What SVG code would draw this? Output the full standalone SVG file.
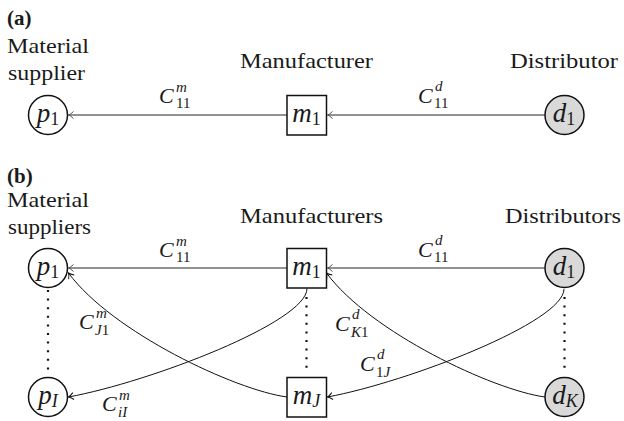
<svg xmlns="http://www.w3.org/2000/svg" width="624" height="421" viewBox="0 0 624 421" font-family="Liberation Serif">
<defs>
<style>
text{fill:#1a1a1a}
.t{font-size:21px}
.b{font-size:21px;font-weight:bold}
.mi{font-style:italic}
.c{font-size:22px;font-style:italic}
.s{font-size:15px}
.nl{font-size:27px;text-anchor:middle}
.ns{font-size:18px}
.node{stroke:#111;stroke-width:1.5;fill:#fff}
.dnode{stroke:#111;stroke-width:1.5;fill:#d9d9d9}
.h{stroke:#6e6e6e;stroke-width:1.6;fill:none}
.cv{stroke:#111;stroke-width:1;fill:none}
.dot{stroke:#111;stroke-width:2.2;stroke-dasharray:2 6.6;fill:none}
</style>
<marker id="ag" markerUnits="userSpaceOnUse" markerWidth="10" markerHeight="10" viewBox="-7 -5 8 10" refX="0" refY="0" orient="auto">
<path d="M-5,-3.5 Q-2,-0.6 0,0 Q-2,0.6 -5,3.5" fill="none" stroke="#555" stroke-width="1"/>
</marker>
<marker id="ab" markerUnits="userSpaceOnUse" markerWidth="10" markerHeight="10" viewBox="-7 -5 8 10" refX="0" refY="0" orient="auto">
<path d="M-5,-3.5 Q-2,-0.6 0,0 Q-2,0.6 -5,3.5" fill="none" stroke="#111" stroke-width="1"/>
</marker>
</defs>
<rect width="624" height="421" fill="#fff"/>

<g id="labels">
<text class="b" x="7" y="25">(a)</text>
<text class="t" x="7" y="53" textLength="82" lengthAdjust="spacingAndGlyphs">Material</text>
<text class="t" x="8" y="80" textLength="77" lengthAdjust="spacingAndGlyphs">supplier</text>
<text class="t" x="240" y="68" textLength="133" lengthAdjust="spacingAndGlyphs">Manufacturer</text>
<text class="t" x="510" y="68" textLength="108" lengthAdjust="spacingAndGlyphs">Distributor</text>

<text class="b" x="7" y="183">(b)</text>
<text class="t" x="7" y="207" textLength="82" lengthAdjust="spacingAndGlyphs">Material</text>
<text class="t" x="8" y="234" textLength="83" lengthAdjust="spacingAndGlyphs">suppliers</text>
<text class="t" x="240" y="223" textLength="143" lengthAdjust="spacingAndGlyphs">Manufacturers</text>
<text class="t" x="505" y="223" textLength="116" lengthAdjust="spacingAndGlyphs">Distributors</text>
</g>

<g id="connectors">
<line class="h" x1="287" y1="115" x2="68.5" y2="115" marker-end="url(#ag)"/>
<line class="h" x1="545" y1="115" x2="327.5" y2="115" marker-end="url(#ag)"/>
<line class="h" x1="287" y1="268" x2="68.5" y2="268" marker-end="url(#ag)"/>
<line class="h" x1="545" y1="268" x2="327.5" y2="268" marker-end="url(#ag)"/>
<path class="cv" d="M287,397 C235,390 112,332 68.5,273" marker-end="url(#ab)"/>
<path class="cv" d="M307,288.5 C307,322 150,382 68.5,397" marker-end="url(#ab)"/>
<path class="cv" d="M545,397 C493,390 370,332 326.5,273" marker-end="url(#ab)"/>
<path class="cv" d="M564,289 C564,322 408,382 327.5,397" marker-end="url(#ab)"/>
<line class="dot" x1="48" y1="290" x2="48" y2="374"/>
<line class="dot" x1="306.5" y1="297" x2="306.5" y2="374"/>
<line class="dot" x1="564.5" y1="297" x2="564.5" y2="374"/>

<text class="c" x="159" y="103">C</text><text class="s mi" x="176" y="92">m</text><text class="s" x="176" y="108">11</text>
<text class="c" x="418" y="103">C</text><text class="s mi" x="435" y="91">d</text><text class="s" x="434" y="108">11</text>
<text class="c" x="159" y="257">C</text><text class="s mi" x="176" y="246">m</text><text class="s" x="176" y="262">11</text>
<text class="c" x="418" y="257">C</text><text class="s mi" x="435" y="245">d</text><text class="s" x="434" y="262">11</text>
<text class="c" x="79" y="329">C</text><text class="s mi" x="96" y="318">m</text><text class="s" x="95" y="335"><tspan class="mi">J</tspan>1</text>
<text class="c" x="102" y="411">C</text><text class="s mi" x="119" y="400">m</text><text class="s mi" x="118" y="417">iI</text>
<text class="c" x="335" y="331">C</text><text class="s mi" x="352" y="319">d</text><text class="s" x="351" y="337"><tspan class="mi">K</tspan>1</text>
<text class="c" x="360" y="371">C</text><text class="s mi" x="377" y="359">d</text><text class="s" x="376" y="377">1<tspan class="mi">J</tspan></text>
</g>

<g id="a_p1"><circle class="node" cx="48" cy="115" r="19.5"/><text class="nl" x="48" y="122"><tspan class="mi">p</tspan><tspan class="ns" dy="3">1</tspan></text></g>
<g id="a_m1"><rect class="node" x="287" y="95.5" width="39.5" height="39.5"/><text class="nl" x="306.5" y="122"><tspan class="mi">m</tspan><tspan class="ns" dy="3">1</tspan></text></g>
<g id="a_d1"><circle class="dnode" cx="564.5" cy="115" r="19.5"/><text class="nl" x="564" y="122"><tspan class="mi">d</tspan><tspan class="ns" dy="3">1</tspan></text></g>

<g id="b_p1"><circle class="node" cx="48" cy="268" r="19.5"/><text class="nl" x="48" y="275"><tspan class="mi">p</tspan><tspan class="ns" dy="3">1</tspan></text></g>
<g id="b_pI"><circle class="node" cx="48" cy="397" r="19.5"/><text class="nl" x="48" y="404"><tspan class="mi">p</tspan><tspan class="ns mi" dy="3">I</tspan></text></g>
<g id="b_m1"><rect class="node" x="287" y="248.5" width="39.5" height="39.5"/><text class="nl" x="306.5" y="275"><tspan class="mi">m</tspan><tspan class="ns" dy="3">1</tspan></text></g>
<g id="b_mJ"><rect class="node" x="287" y="377.5" width="39.5" height="39.5"/><text class="nl" x="306.5" y="404"><tspan class="mi">m</tspan><tspan class="ns mi" dy="3">J</tspan></text></g>
<g id="b_d1"><circle class="dnode" cx="564.5" cy="268" r="19.5"/><text class="nl" x="564" y="275"><tspan class="mi">d</tspan><tspan class="ns" dy="3">1</tspan></text></g>
<g id="b_dK"><circle class="dnode" cx="564.5" cy="397" r="19.5"/><text class="nl" x="565" y="404"><tspan class="mi">d</tspan><tspan class="ns mi" dy="3">K</tspan></text></g>
</svg>
